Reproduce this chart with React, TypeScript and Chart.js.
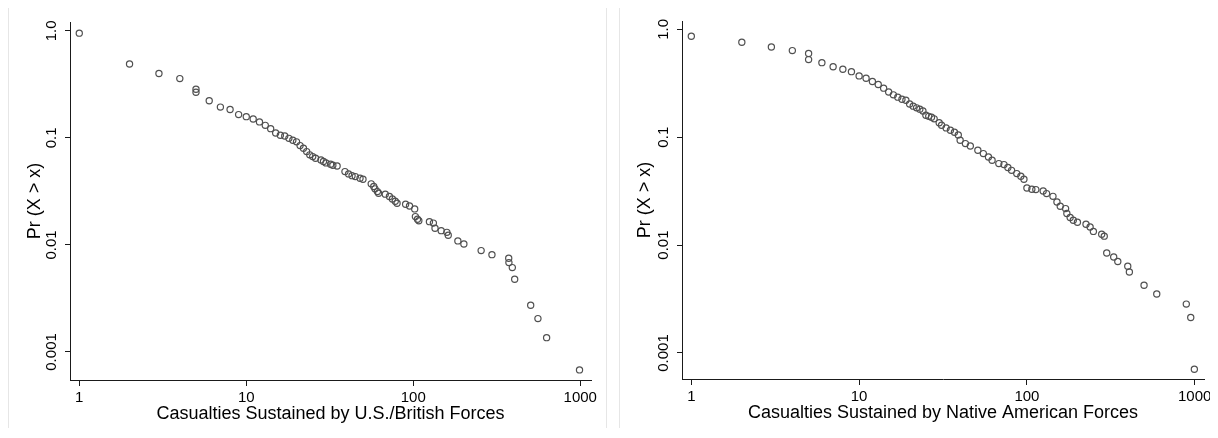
import React, { useEffect, useRef, useState } from "react";
import { Chart, registerables } from "chart.js";

Chart.register(...registerables);

// ---- Data ----
const usCasualties = [
  1, 2, 3, 4, 5, 5, 6, 7, 8, 9, 10, 11, 12, 13, 14, 15, 16, 17, 18, 19, 20, 21, 22, 23, 24, 25, 26, 28,
  29, 30, 32, 33, 35, 39, 41, 43, 45, 48, 50, 56, 58, 59, 61, 62, 68, 72, 75, 78, 80, 90, 95, 102, 103,
  106, 108, 125, 132, 135, 147, 159, 162, 185, 201, 255, 296, 373, 374, 392, 405, 505, 558, 629, 990,
];
const usPr = [
  0.952, 0.49, 0.4, 0.358, 0.285, 0.267, 0.222, 0.194, 0.184, 0.165, 0.158, 0.15, 0.141, 0.131, 0.122,
  0.111, 0.106, 0.104, 0.099, 0.095, 0.0918, 0.0847, 0.0801, 0.0745, 0.0694, 0.0669, 0.0646, 0.0623,
  0.0601, 0.0584, 0.0568, 0.0556, 0.0547, 0.0484, 0.0461, 0.0444, 0.0435, 0.042, 0.0411, 0.0372, 0.0351,
  0.0334, 0.0315, 0.0304, 0.0298, 0.0283, 0.0269, 0.0256, 0.0245, 0.024, 0.0231, 0.0217, 0.0184, 0.0174,
  0.0168, 0.0165, 0.016, 0.0143, 0.0136, 0.0131, 0.0123, 0.0109, 0.0102, 0.00885, 0.00811, 0.00751,
  0.00684, 0.00614, 0.00478, 0.00273, 0.00205, 0.00136, 0.00068,
];

const naCasualties = [
  1, 2, 3, 4, 5, 5, 6, 7, 8, 9, 10, 11, 12, 13, 14, 15, 16, 17, 18, 19, 20, 21, 22, 23, 24, 25, 26, 27,
  28, 30, 31, 33, 35, 37, 39, 40, 43, 46, 51, 55, 59, 62, 68, 73, 77, 81, 87, 92, 96, 100, 107, 113, 125,
  131, 143, 151, 158, 170, 173, 181, 189, 200, 225, 238, 249, 279, 289, 299, 329, 348, 399, 408, 499, 594,
  891, 947, 995,
];
const naPr = [
  0.861, 0.758, 0.686, 0.635, 0.596, 0.524, 0.491, 0.45, 0.426, 0.405, 0.37, 0.352, 0.328, 0.308, 0.285,
  0.262, 0.247, 0.235, 0.225, 0.22, 0.203, 0.194, 0.187, 0.182, 0.175, 0.16, 0.156, 0.153, 0.148, 0.136,
  0.129, 0.122, 0.116, 0.111, 0.105, 0.0936, 0.0872, 0.0828, 0.0756, 0.0705, 0.0656, 0.0611, 0.0569,
  0.0557, 0.0523, 0.0493, 0.046, 0.0434, 0.0407, 0.0338, 0.0329, 0.0327, 0.0317, 0.03, 0.0283, 0.0251,
  0.0229, 0.0218, 0.0196, 0.018, 0.017, 0.0163, 0.0156, 0.0147, 0.0134, 0.0126, 0.0121, 0.00845, 0.00776,
  0.00704, 0.00636, 0.00564, 0.00424, 0.00352, 0.00284, 0.00213, 0.000706,
];

const xTickValues = [1, 10, 100, 1000];
const xTickLabels = ["1", "10", "100", "1000"];
const yTickValues = [1, 0.1, 0.01, 0.001];
const yTickLabels = ["1.0", "0.1", "0.01", "0.001"];

const yAxisTitle = "Pr (X > x)";
const usAxisTitle = "Casualties Sustained by U.S./British Forces";
const naAxisTitle = "Casualties Sustained by Native American Forces";

// ---- Layout / style ----
const FONT = "'Liberation Sans', Arial, Helvetica, sans-serif";

type Geo = {
  boxLeft: number;
  boxTop: number;
  width: number;
  height: number;
  rightBorder: boolean;
  padTop: number;
  padRight: number;
  yAxisW: number;
  xAxisH: number;
  xMin: number;
  xMax: number;
  yMin: number;
  yMax: number;
  yTitlePad: number;
  xTitlePad: number;
};

const leftGeo: Geo = {
  boxLeft: 8,
  boxTop: 6,
  width: 597,
  height: 430,
  rightBorder: true,
  padTop: 15,
  padRight: 15,
  yAxisW: 61,
  xAxisH: 57,
  xMin: 0.88,
  xMax: 1160,
  yMin: 0.000547,
  yMax: 1.21,
  yTitlePad: 15,
  xTitlePad: 12,
};

const rightGeo: Geo = {
  boxLeft: 619,
  boxTop: 4,
  width: 598,
  height: 430,
  rightBorder: false,
  padTop: 16,
  padRight: 14,
  yAxisW: 62,
  xAxisH: 56,
  xMin: 0.88,
  xMax: 1136,
  yMin: 0.000574,
  yMax: 1.194,
  yTitlePad: 14,
  xTitlePad: 11,
};

function Panel({ xs, ys, title, geo }: { xs: number[]; ys: number[]; title: string; geo: Geo }) {
  const ref = useRef<HTMLCanvasElement | null>(null);
  const [err, setErr] = useState<string>("");

  useEffect(() => {
    if (!ref.current) return;
    const tickFont = { family: FONT, size: 15 };
    const titleFont = { family: FONT, size: 18 };
    let chart: Chart | null = null;
    try {
      chart = new Chart(ref.current, {
        type: "scatter",
        data: {
          datasets: [
            {
              data: xs.map((x, i) => ({ x, y: ys[i] })),
              pointStyle: "circle",
              pointRadius: 3.1,
              pointHoverRadius: 3.1,
              pointBorderWidth: 1.2,
              pointBorderColor: "#505050",
              pointBackgroundColor: "rgba(0,0,0,0)",
              showLine: false,
            },
          ],
        },
        options: {
          animation: false,
          responsive: false,
          maintainAspectRatio: false,
          devicePixelRatio: 1,
          layout: { padding: { left: 0, top: geo.padTop, right: geo.padRight, bottom: 0 } },
          plugins: { legend: { display: false }, tooltip: { enabled: false } },
          scales: {
            x: {
              type: "logarithmic",
              position: "bottom",
              min: geo.xMin,
              max: geo.xMax,
              afterBuildTicks: (s: any) => {
                s.ticks = xTickValues.map((v) => ({ value: v }));
              },
              afterFit: (s: any) => {
                s.height = geo.xAxisH;
              },
              ticks: {
                callback: (_v: any, i: number) => xTickLabels[i],
                font: tickFont,
                color: "#000",
                padding: 3,
                maxRotation: 0,
                minRotation: 0,
                autoSkip: false,
              },
              grid: {
                display: true,
                drawOnChartArea: false,
                drawTicks: true,
                tickLength: 6,
                color: "#1a1a1a",
                lineWidth: 1,
              },
              border: { display: true, color: "#1a1a1a", width: 1 },
              title: {
                display: true,
                text: title,
                font: titleFont,
                color: "#000",
                padding: { top: 0, bottom: geo.xTitlePad },
              },
            },
            y: {
              type: "logarithmic",
              position: "left",
              min: geo.yMin,
              max: geo.yMax,
              afterBuildTicks: (s: any) => {
                s.ticks = yTickValues.map((v) => ({ value: v }));
              },
              afterFit: (s: any) => {
                s.width = geo.yAxisW;
              },
              ticks: {
                callback: (_v: any, i: number) => yTickLabels[i],
                font: tickFont,
                color: "#000",
                padding: -6,
                minRotation: 90,
                maxRotation: 90,
                crossAlign: "center",
                autoSkip: false,
              },
              grid: {
                display: true,
                drawOnChartArea: false,
                drawTicks: true,
                tickLength: 5,
                color: "#1a1a1a",
                lineWidth: 1,
              },
              border: { display: true, color: "#1a1a1a", width: 1 },
              title: {
                display: true,
                text: yAxisTitle,
                font: titleFont,
                color: "#000",
                padding: { top: geo.yTitlePad, bottom: 0 },
              },
            },
          },
        } as any,
      });
    } catch (e: any) {
      setErr(String(e && e.stack ? e.stack : e));
    }
    return () => {
      if (chart) chart.destroy();
    };
  }, [xs, ys, title, geo]);

  return (
    <div
      style={{
        position: "absolute",
        left: geo.boxLeft - 8,
        top: geo.boxTop - 8,
        width: geo.width,
        height: geo.height,
        borderTop: "1px solid #e6e6e6",
        borderLeft: "1px solid #e6e6e6",
        borderBottom: "1px solid #e6e6e6",
        borderRight: geo.rightBorder ? "1px solid #e6e6e6" : "none",
        background: "#fff",
      }}
    >
      <canvas
        ref={ref}
        width={geo.width}
        height={geo.height}
        style={{ display: "block", width: geo.width, height: geo.height }}
      />
      {err ? (
        <pre style={{ position: "absolute", left: 0, top: 0, fontSize: 10, color: "red", whiteSpace: "pre-wrap" }}>{err}</pre>
      ) : null}
    </div>
  );
}

export default function App() {
  return (
    <div style={{ position: "relative", width: 1202, height: 420 }}>
      <Panel xs={usCasualties} ys={usPr} title={usAxisTitle} geo={leftGeo} />
      <Panel xs={naCasualties} ys={naPr} title={naAxisTitle} geo={rightGeo} />
    </div>
  );
}
